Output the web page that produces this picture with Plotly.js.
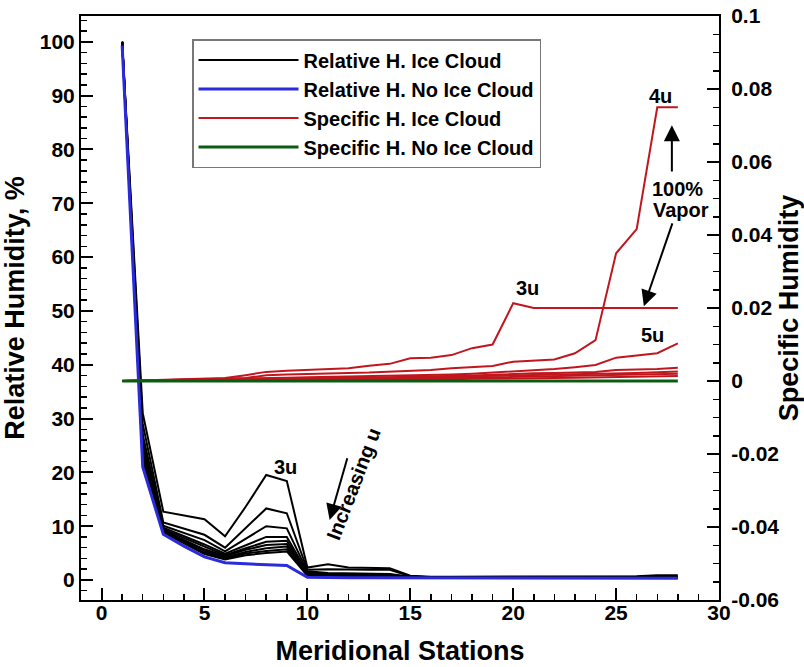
<!DOCTYPE html>
<html>
<head>
<meta charset="utf-8">
<script src="https://cdn.plot.ly/plotly-3.0.1.min.js"></script>
<style>html,body{margin:0;padding:0;background:#fff;}#chart{width:804px;height:667px;}</style>
</head>
<body>
<div id="chart"></div>
<script>
// ---- data ----
const stations = [1,2,3,4,5,6,7,8,9,10,11,12,13,14,15,16,17,18,19,20,21,22,23,24,25,26,27,28];

// Relative humidity, ice cloud (one line per u)
const rhIce3u  = [100,31,12.7,12.0,11.3,8.1,13.6,19.5,18.4,2.3,2.9,2.3,2.2,2.2,0.8,0.6,0.6,0.6,0.6,0.6,0.6,0.6,0.6,0.6,0.6,0.7,0.9,0.9];
const rhIce4u  = [100,29,10.7,9.5,8.4,6.0,9.7,13.3,12.4,1.9,2.0,1.9,1.9,1.9,0.7,0.5,0.5,0.5,0.5,0.5,0.5,0.5,0.5,0.5,0.5,0.5,0.6,0.6];
const rhIce5u  = [100,27,10.1,8.8,7.4,5.3,7.7,10.0,9.6,1.6,1.3,1.2,1.2,1.1,0.6,0.5,0.5,0.5,0.5,0.5,0.5,0.5,0.5,0.5,0.5,0.5,0.5,0.5];
const rhIce6u  = [100,26,9.7,8.2,6.6,4.9,6.5,8.0,8.0,1.4,1.1,1.0,1.0,1.0,0.5,0.5,0.5,0.5,0.5,0.5,0.5,0.5,0.5,0.5,0.5,0.5,0.5,0.5];
const rhIce7u  = [100,25,9.4,7.8,6.1,4.6,5.9,7.1,7.3,1.2,1.0,0.9,0.9,0.9,0.5,0.5,0.5,0.5,0.5,0.5,0.5,0.5,0.5,0.5,0.5,0.5,0.5,0.5];
const rhIce8u  = [100,24,9.2,7.5,5.7,4.4,5.6,6.5,6.7,1.1,0.9,0.8,0.8,0.8,0.5,0.5,0.5,0.5,0.5,0.5,0.5,0.5,0.5,0.5,0.5,0.5,0.5,0.5];
const rhIce9u  = [100,23,9.0,7.2,5.4,4.2,5.2,5.9,6.2,1.0,0.8,0.7,0.7,0.7,0.5,0.4,0.4,0.4,0.4,0.4,0.4,0.4,0.4,0.4,0.4,0.4,0.4,0.4];
const rhIce10u = [100,22.5,8.9,7.0,5.1,4.0,4.9,5.4,5.7,0.9,0.7,0.6,0.6,0.6,0.5,0.4,0.4,0.4,0.4,0.4,0.4,0.4,0.4,0.4,0.4,0.4,0.4,0.4];
const rhIce11u = [100,22,8.8,6.8,4.8,3.8,4.6,5.0,5.3,0.8,0.6,0.5,0.5,0.5,0.4,0.4,0.4,0.4,0.4,0.4,0.4,0.4,0.4,0.4,0.4,0.4,0.4,0.4];
// Relative humidity, no ice cloud
const rhNoIce  = [99.3,21.0,8.5,6.3,4.3,3.2,3.0,2.9,2.7,0.5,0.4,0.4,0.4,0.4,0.3,0.3,0.3,0.3,0.3,0.3,0.3,0.3,0.3,0.3,0.3,0.3,0.3,0.3];

// Specific humidity, ice cloud (one line per u)
const shIce3u  = [0,0.0002,0.0003,0.0005,0.0006,0.0008,0.0016,0.0025,0.0028,0.0030,0.0032,0.0035,0.0042,0.0047,0.0062,0.0064,0.0071,0.0090,0.0100,0.0213,0.0200,0.0200,0.0200,0.0200,0.0200,0.0200,0.0200,0.0200];
const shIce4u  = [0,0.0001,0.0002,0.0003,0.0004,0.0006,0.0008,0.0016,0.0018,0.0020,0.0021,0.0022,0.0023,0.0025,0.0028,0.0030,0.0035,0.0038,0.0041,0.0053,0.0057,0.0059,0.0076,0.0112,0.0350,0.0416,0.0750,0.0750];
const shIce5u  = [0,0.0001,0.0002,0.0002,0.0003,0.0004,0.0006,0.0008,0.0009,0.0010,0.0011,0.0012,0.0013,0.0014,0.0015,0.0017,0.0018,0.0020,0.0023,0.0027,0.0030,0.0033,0.0038,0.0044,0.0064,0.0070,0.0076,0.0103];
const shIce6u  = [0,0.0001,0.0001,0.0002,0.0002,0.0003,0.0004,0.0005,0.0006,0.0007,0.0008,0.0008,0.0009,0.0010,0.0010,0.0012,0.0013,0.0015,0.0017,0.0020,0.0021,0.0022,0.0023,0.0025,0.0030,0.0031,0.0033,0.0036];
const shIce7u  = [0,0,0.0001,0.0001,0.0002,0.0002,0.0003,0.0004,0.0004,0.0005,0.0006,0.0006,0.0007,0.0008,0.0009,0.0010,0.0011,0.0012,0.0013,0.0015,0.0016,0.0017,0.0018,0.0019,0.0020,0.0022,0.0024,0.0026];
const shIce8u  = [0,0,0.0001,0.0001,0.0001,0.0002,0.0002,0.0003,0.0003,0.0004,0.0004,0.0005,0.0005,0.0006,0.0006,0.0007,0.0008,0.0009,0.0010,0.0011,0.0012,0.0013,0.0014,0.0015,0.0016,0.0017,0.0018,0.0020];
const shIce9u  = [0,0,0,0.0001,0.0001,0.0001,0.0002,0.0002,0.0002,0.0003,0.0003,0.0003,0.0004,0.0004,0.0004,0.0005,0.0005,0.0006,0.0006,0.0007,0.0008,0.0008,0.0009,0.0010,0.0011,0.0012,0.0013,0.0014];
// Specific humidity, no ice cloud
const shNoIce  = [0,0,0,0,0,0,0,0,0,0,0,0,0,0,0,0,0,0,0,0,0,0,0,0,0,0,0,0];

// tick labels
const xTicks   = [0,5,10,15,20,25,30];
const yTicks   = [0,10,20,30,40,50,60,70,80,90,100];
const y2Ticks  = [-0.06,-0.04,-0.02,0,0.02,0.04,0.06,0.08,0.1];
const y2Labels = ["-0.06","-0.04","-0.02","0","0.02","0.04","0.06","0.08","0.1"];

const seriesNames = ["Relative H. Ice Cloud","Relative H. No Ice Cloud","Specific H. Ice Cloud","Specific H. No Ice Cloud"];

// ---- traces ----
const BLACK = "#000000", BLUE = "#2b2bdc", RED = "#c0171f", GREEN = "#0b5c12";
const rhIce = [rhIce3u,rhIce4u,rhIce5u,rhIce6u,rhIce7u,rhIce8u,rhIce9u,rhIce10u,rhIce11u];
const shIce = [shIce3u,shIce4u,shIce5u,shIce6u,shIce7u,shIce8u,shIce9u];
const traces = [];
rhIce.forEach((ys,i)=>traces.push({x:stations,y:ys,type:"scatter",mode:"lines",name:seriesNames[0],legendgroup:"rhi",showlegend:i===0,line:{color:BLACK,width:2},xaxis:"x",yaxis:"y"}));
traces.push({x:stations,y:rhNoIce,type:"scatter",mode:"lines",name:seriesNames[1],line:{color:BLUE,width:3},xaxis:"x",yaxis:"y"});
shIce.forEach((ys,i)=>traces.push({x:stations,y:ys,type:"scatter",mode:"lines",name:seriesNames[2],legendgroup:"shi",showlegend:i===0,line:{color:RED,width:2},xaxis:"x",yaxis:"y2"}));
traces.push({x:stations,y:shNoIce,type:"scatter",mode:"lines",name:seriesNames[3],line:{color:GREEN,width:3},xaxis:"x",yaxis:"y2"});

const FONT = "Liberation Sans, Arial, Helvetica, sans-serif";
const tickFont = {family:FONT,size:21,color:"#000",weight:"bold"};
const titleFont = {family:FONT,size:27,color:"#000",weight:"bold"};
const annFont = {family:FONT,size:20,color:"#000",weight:"bold"};
const axBase = {showgrid:false,zeroline:false,showline:true,linecolor:"#000",linewidth:2,
  ticks:"inside",ticklen:12,tickwidth:2,tickcolor:"#000",tickfont:tickFont};

const layout = {
  width:804,height:667,
  margin:{l:81,r:85,t:16,b:67,pad:0},
  paper_bgcolor:"#fff",plot_bgcolor:"#fff",
  font:{family:FONT,color:"#000"},
  showlegend:true,
  legend:{x:0.174,y:0.9606,xanchor:"left",yanchor:"top",bgcolor:"#fff",bordercolor:"#777",borderwidth:1.5,
    font:{family:FONT,size:20,color:"#000",weight:"bold"},itemwidth:100,tracegroupgap:0,traceorder:"normal"},
  xaxis:Object.assign({},axBase,{range:[-1,30],tickmode:"array",tickvals:xTicks,mirror:true,ticklabelstandoff:-7,
    minor:{dtick:1,tick0:0,ticks:"inside",ticklen:6,tickwidth:1.5,tickcolor:"#000"},
    title:{text:"Meridional Stations",font:titleFont,standoff:18}}),
  yaxis:Object.assign({},axBase,{range:[-3.72,104.8],tickmode:"array",tickvals:yTicks,
    minor:{dtick:2,tick0:0,ticks:"inside",ticklen:6,tickwidth:1.5,tickcolor:"#000"},
    title:{text:"Relative Humidity, %",font:titleFont,standoff:8}}),
  yaxis2:Object.assign({},axBase,{overlaying:"y",side:"right",range:[-0.06,0.1],tickmode:"array",tickvals:y2Ticks,ticktext:y2Labels,ticklabelstandoff:6,
    minor:{dtick:0.005,tick0:0,ticks:"inside",ticklen:6,tickwidth:1.5,tickcolor:"#000"},
    title:{text:"Specific Humidity",font:titleFont,standoff:2}}),
  annotations:[
    {xref:"x",yref:"y",x:8.94,y:21.0,text:"3u",showarrow:false,font:annFont},
    {xref:"x",yref:"y",x:12.25,y:17.8,text:"Increasing u",textangle:-69,showarrow:false,font:annFont},
    {xref:"x",yref:"y",x:11.08,y:11.15,axref:"x",ayref:"y",ax:11.96,ay:22.9,text:"",showarrow:true,arrowhead:2,arrowsize:1.6,arrowwidth:2,arrowcolor:"#000"},
    {xref:"x",yref:"y2",x:27.18,y:0.0781,text:"4u",showarrow:false,font:annFont},
    {xref:"x",yref:"y2",x:27.71,y:0.0701,axref:"x",ayref:"y2",ax:27.71,ay:0.057,text:"",showarrow:true,arrowhead:2,arrowsize:1.6,arrowwidth:2,arrowcolor:"#000"},
    {xref:"x",yref:"y2",x:28.0,y:0.0526,text:"100%",showarrow:false,font:annFont},
    {xref:"x",yref:"y2",x:28.15,y:0.0468,text:"Vapor",showarrow:false,font:annFont},
    {xref:"x",yref:"y2",x:26.35,y:0.0205,axref:"x",ayref:"y2",ax:27.76,ay:0.0436,text:"",showarrow:true,arrowhead:2,arrowsize:1.6,arrowwidth:2,arrowcolor:"#000"},
    {xref:"x",yref:"y2",x:20.71,y:0.0255,text:"3u",showarrow:false,font:annFont},
    {xref:"x",yref:"y2",x:26.79,y:0.0126,text:"5u",showarrow:false,font:annFont}
  ]
};

Plotly.newPlot("chart",traces,layout,{staticPlot:true,displayModeBar:false});
</script>
</body>
</html>
